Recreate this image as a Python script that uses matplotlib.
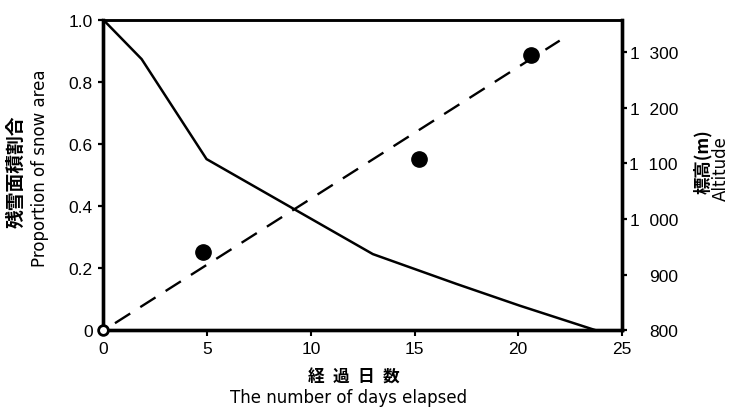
import matplotlib
matplotlib.use("Agg")
import matplotlib.pyplot as plt
from matplotlib import font_manager

# snow cover retreat
snow_days = [0, 1.84, 4.97, 12.99, 17.02, 20.07, 23.77]
snow_prop = [1.0, 0.874, 0.552, 0.246, 0.150, 0.080, 0.0]

# altitude of the snow line on observation days
obs_days = [4.78, 15.2, 20.6]
obs_alt = [941, 1107, 1294]

# fitted trend of snow line altitude
trend_days = [0, 22.0]
trend_alt = [800, 1320]

start_day = [0]
start_prop = [0.0]

x_ticks = [0, 5, 10, 15, 20, 25]
prop_ticks = [0, 0.2, 0.4, 0.6, 0.8, 1.0]
prop_labels = ["0", "0.2", "0.4", "0.6", "0.8", "1.0"]
alt_ticks = [800, 900, 1000, 1100, 1200, 1300]
alt_labels = ["800", "900", "1  000", "1  100", "1  200", "1  300"]

names = {f.name for f in font_manager.fontManager.ttflist}
num_font = "Liberation Sans Narrow" if "Liberation Sans Narrow" in names else "Liberation Sans"
jp_font = ["Noto Sans CJK JP", "DejaVu Sans"]

plt.rcParams["font.family"] = [num_font, "DejaVu Sans"]
plt.rcParams["lines.scale_dashes"] = False

fig = plt.figure(figsize=(7.36, 4.10), dpi=100)
ax = fig.add_axes([0.1406, 0.1915, 0.7044, 0.7573])
ax2 = ax.twinx()

ax.plot(snow_days, snow_prop, color="black", lw=1.8, solid_joinstyle="miter")
ax2.plot(trend_days, trend_alt, color="black", lw=1.7, ls=(11.8, (13, 8.6)))
ax2.plot(obs_days, obs_alt, "o", color="black", ms=11, zorder=4)
ax.plot(start_day, start_prop, "o", ms=7, mfc="white", mec="black",
        mew=2.0, clip_on=False, zorder=5)
ax.set_zorder(ax2.get_zorder() + 1)
ax.patch.set_visible(False)

ax.set_xlim(0, 25)
ax.set_ylim(0, 1.0)
ax2.set_ylim(800, 1357)

ax.set_xticks(x_ticks)
ax.set_xticklabels([str(v) for v in x_ticks])
ax.set_yticks(prop_ticks)
ax.set_yticklabels(prop_labels)
ax2.set_yticks(alt_ticks)
ax2.set_yticklabels(alt_labels)

for a in (ax, ax2):
    for side in ("left", "right", "bottom"):
        a.spines[side].set_linewidth(2.4)
    a.spines["top"].set_linewidth(1.8)

ax.tick_params(axis="x", direction="out", length=4.5, width=1.5, pad=3, labelsize=12.5)
ax.tick_params(axis="y", direction="out", length=3.8, width=1.6, pad=4, labelsize=12.5)
ax2.tick_params(axis="y", direction="out", length=3.8, width=1.6, pad=36.5, labelsize=12.5)
for t in ax2.get_yticklabels():
    t.set_horizontalalignment("right")

fig.text(0.022, 0.58, "残雪面積割合", rotation=90, ha="center", va="center",
         fontsize=13.5, weight="bold", family=jp_font)
fig.text(0.055, 0.59, "Proportion of snow area", rotation=90, ha="center",
         va="center", fontsize=12, family="DejaVu Sans")
fig.text(0.955, 0.605, "標高(m)", rotation=90, ha="center", va="center",
         fontsize=12.5, weight="bold", family=jp_font)
fig.text(0.98, 0.588, "Altitude", rotation=90, ha="center", va="center",
         fontsize=12, family="DejaVu Sans")
fig.text(0.481, 0.078, "経\u2002過\u2002日\u2002数", ha="center", va="center",
         fontsize=12, weight="bold", family=jp_font)
fig.text(0.473, 0.029, "The number of days elapsed", ha="center", va="center",
         fontsize=12, family="DejaVu Sans")

fig.savefig("out.png", dpi=100)
